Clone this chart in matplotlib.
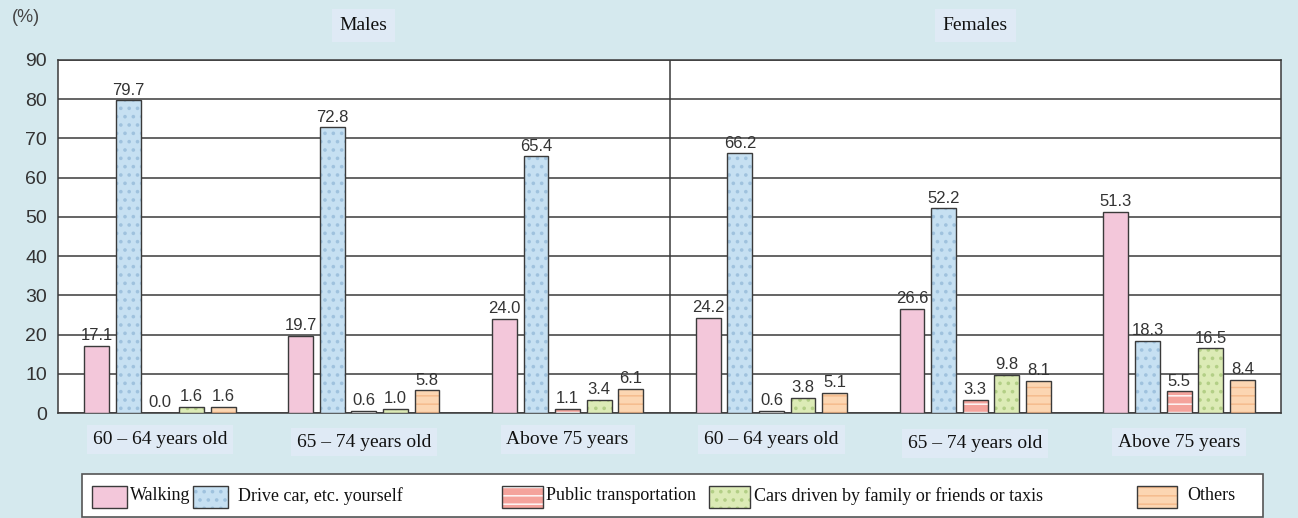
import matplotlib.pyplot as plt
import numpy as np
from matplotlib.patches import Rectangle

# data
modes = ["Walking", "Drive car, etc. yourself", "Public transportation",
         "Cars driven by family or friends or taxis", "Others"]
age_groups = ["60 – 64 years old", "65 – 74 years old", "Above 75 years"]
sexes = ["Males", "Females"]

walking = [17.1, 19.7, 24.0, 24.2, 26.6, 51.3]
drive_self = [79.7, 72.8, 65.4, 66.2, 52.2, 18.3]
public_transport = [0.0, 0.6, 1.1, 0.6, 3.3, 5.5]
family_or_taxi = [1.6, 1.0, 3.4, 3.8, 9.8, 16.5]
others = [1.6, 5.8, 6.1, 5.1, 8.1, 8.4]

series = [walking, drive_self, public_transport, family_or_taxi, others]
fills = ["#f3c7da", "#c6e0f2", "#f4a39c", "#dcebb6", "#fcd6b2"]
hatches = [None, "..", "--", "..", "--"]
hatch_cols = [None, "#9fc2de", "#ffffff", "#b3cf86", "#f5b98a"]

BG = "#d5e9ee"
LABEL_BG = "#dfeaf5"
EDGE = "#3a3a3a"

fig = plt.figure(figsize=(12.98, 5.18), dpi=100, facecolor=BG)
ax = fig.add_axes([58 / 1298, 1 - 413 / 518, 1223 / 1298, 353 / 518])
ax.set_facecolor("white")

n_groups = len(walking)
centers = np.arange(n_groups) + 0.5
width = 0.122
step = 0.155
offsets = (np.arange(len(series)) - 2) * step

for vals, fc, h, hc, off in zip(series, fills, hatches, hatch_cols, offsets):
    x = centers + off
    plt.rcParams["hatch.linewidth"] = 1.0 if h == "--" else 1.4
    if h is None:
        ax.bar(x, vals, width, color=fc, edgecolor=EDGE, linewidth=1.0, zorder=3)
    else:
        # hatch colour follows edgecolor in mpl 3.10, so outline is a second pass
        ax.bar(x, vals, width, color=fc, edgecolor=hc, hatch=h, linewidth=0, zorder=3)
        ax.bar(x, vals, width, fill=False, edgecolor=EDGE, linewidth=1.0, zorder=4)
    for xi, v in zip(x, vals):
        ax.text(xi, v + 0.7, f"{v:.1f}", ha="center", va="bottom", fontsize=12,
                family="Liberation Sans", color="#333333", zorder=5)

ax.set_xlim(0, n_groups)
ax.set_ylim(0, 90)
ax.set_yticks(np.arange(0, 91, 10))
ax.tick_params(axis="y", length=0, labelsize=14, pad=8, labelcolor="#333333")
for lab in ax.get_yticklabels():
    lab.set_family("Liberation Sans")
ax.set_xticks([])
ax.grid(axis="y", color=EDGE, linewidth=1.1, zorder=1)
ax.axvline(n_groups / 2, color=EDGE, linewidth=1.1, zorder=2)
for s in ax.spines.values():
    s.set_color(EDGE)
    s.set_linewidth(1.1)

# age group labels under each cluster
label_y = [-6.7, -7.4, -6.7, -6.7, -7.8, -7.4]
for i, c in enumerate(centers):
    ax.text(c, label_y[i], age_groups[i % 3], ha="center", va="center", fontsize=14,
            family="Liberation Serif", color="#111111",
            bbox=dict(boxstyle="square,pad=0.3", fc=LABEL_BG, ec="none"), clip_on=False)

# Males / Females headings
for k, name in enumerate(sexes):
    ax.text(n_groups / 4 + k * n_groups / 2, 98.8, name, ha="center", va="center",
            fontsize=14, family="Liberation Serif", color="#111111",
            bbox=dict(boxstyle="square,pad=0.4", fc=LABEL_BG, ec="none"), clip_on=False)

fig.text(12 / 1298, 1 - 17 / 518, "(%)", ha="left", va="center", fontsize=13,
         family="Liberation Sans", color="#444444")

# legend drawn by hand to copy the reference layout
W, H = 1298, 518
fig.patches.append(Rectangle((82 / W, 1 - 517 / H), 1181 / W, 43 / H,
                             transform=fig.transFigure, facecolor="white",
                             edgecolor="#555555", linewidth=1.2))
patch_x = [92, 193, 502, 709, 1137]
patch_w = [35, 35, 41, 41, 40]
text_x = [130, 238, 546, 754, 1187]
for px, pw, tx, name, fc, h, hc in zip(patch_x, patch_w, text_x, modes, fills, hatches, hatch_cols):
    xy = (px / W, 1 - 508 / H)
    plt.rcParams["hatch.linewidth"] = 1.0 if h == "--" else 1.4
    if h is None:
        fig.patches.append(Rectangle(xy, pw / W, 22 / H, transform=fig.transFigure,
                                     facecolor=fc, edgecolor=EDGE, linewidth=1.0))
    else:
        fig.patches.append(Rectangle(xy, pw / W, 22 / H, transform=fig.transFigure,
                                     facecolor=fc, edgecolor=hc, hatch=h, linewidth=0))
        fig.patches.append(Rectangle(xy, pw / W, 22 / H, transform=fig.transFigure,
                                     fill=False, edgecolor=EDGE, linewidth=1.0))
    fig.text(tx / W, 1 - 496 / H, name, ha="left", va="center", fontsize=13,
             family="Liberation Serif", color="#111111")

fig.savefig("out.png", dpi=100, facecolor=BG)
